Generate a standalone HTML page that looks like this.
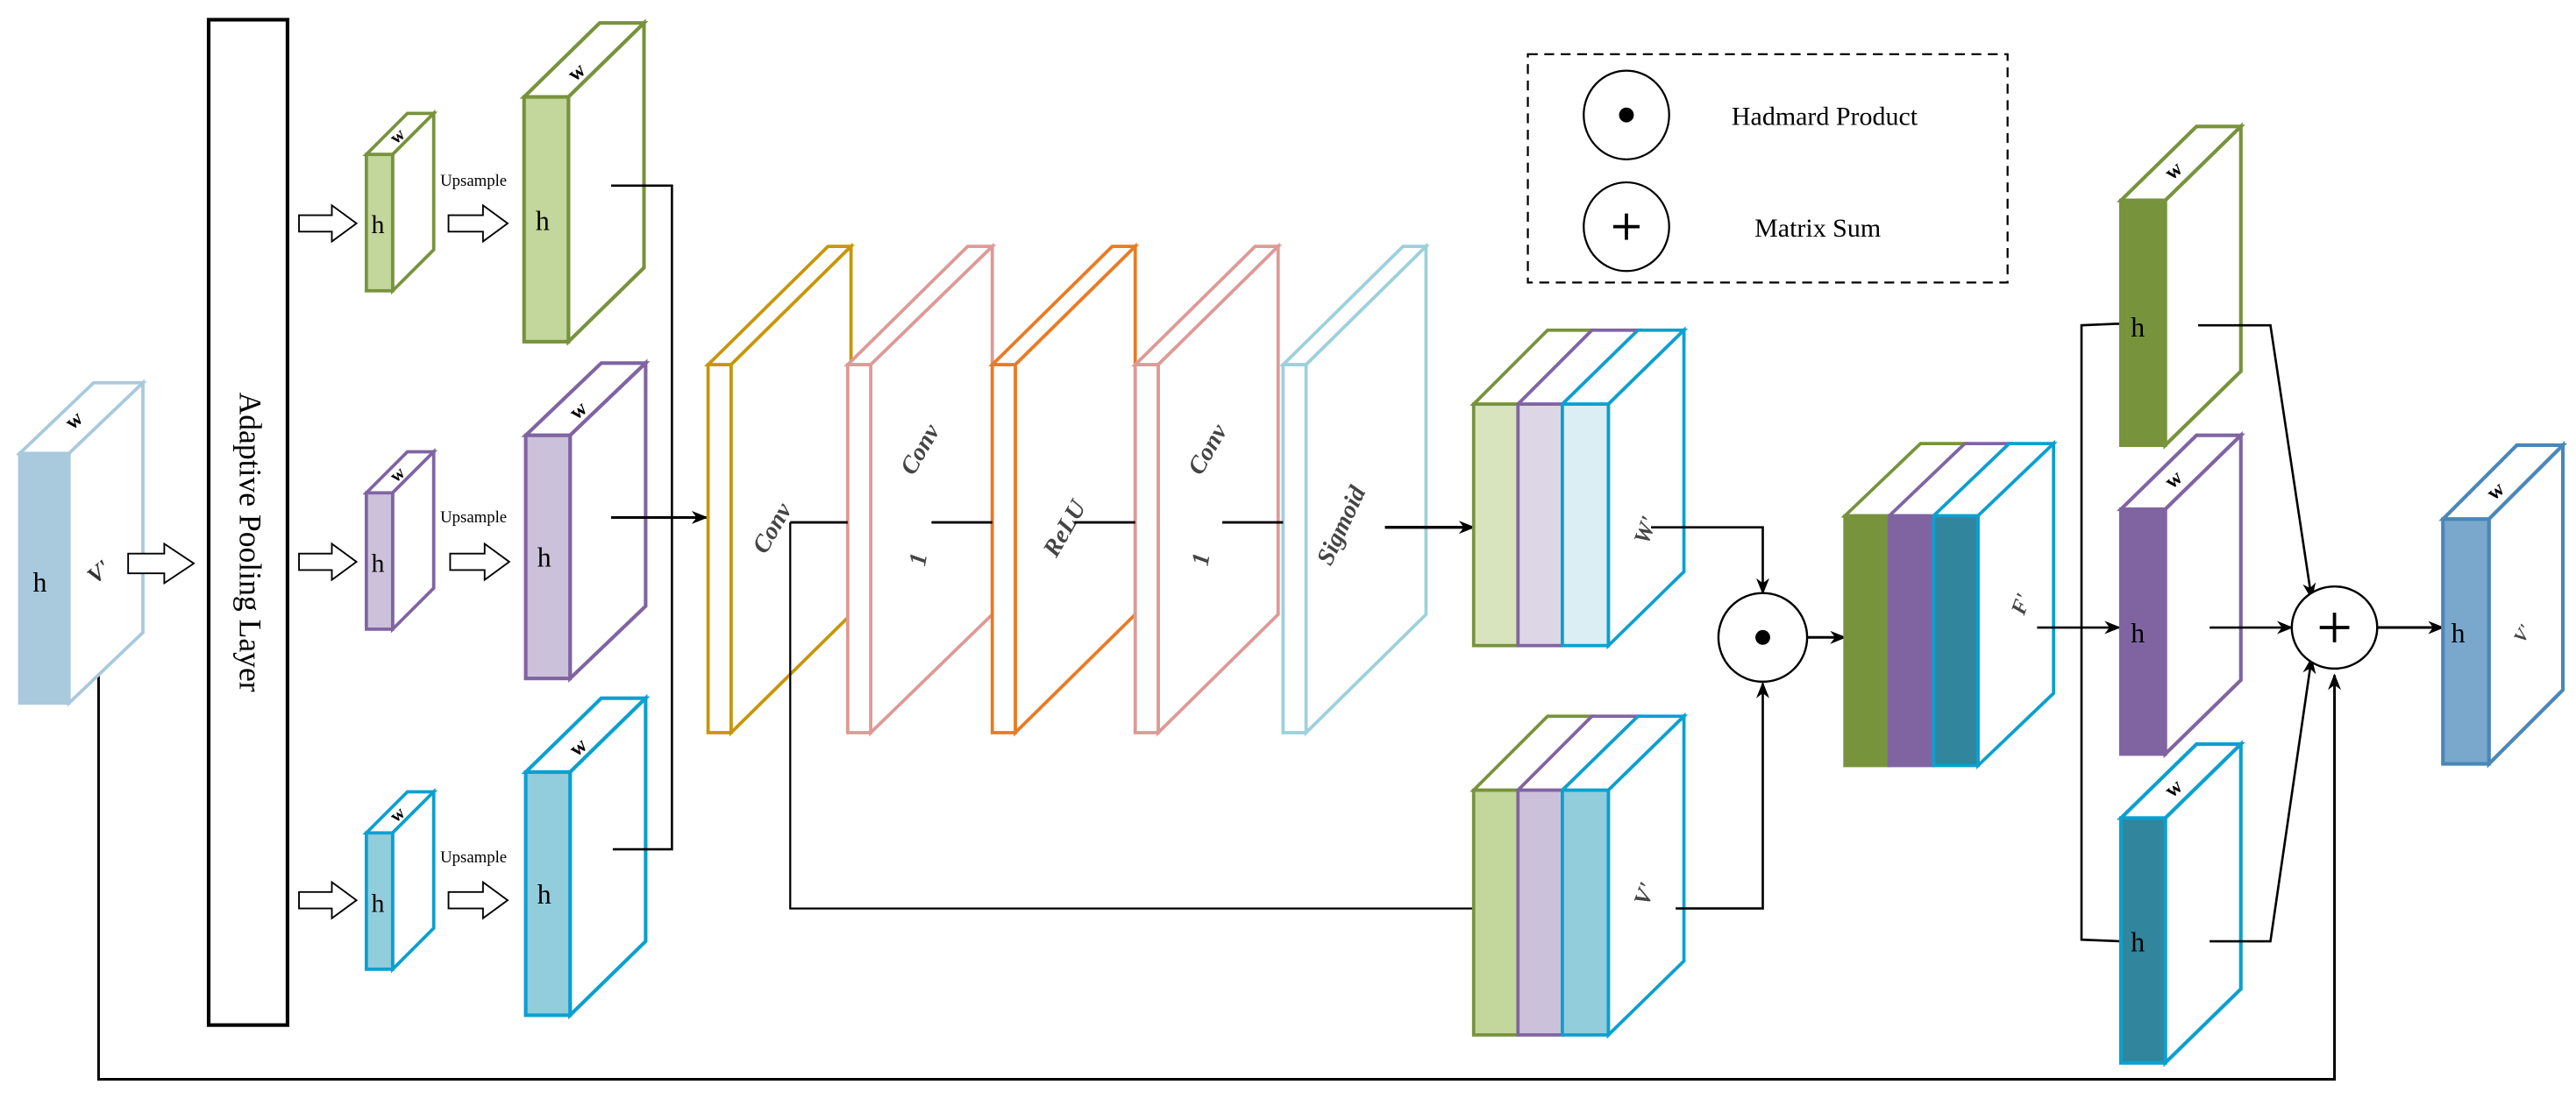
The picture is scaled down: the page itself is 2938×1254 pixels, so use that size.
<!DOCTYPE html>
<html><head><meta charset="utf-8"><style>
html,body{margin:0;padding:0;background:#fff;}
svg{display:block;}
text{font-family:"Liberation Serif",serif;}
</style></head><body>
<svg width="2938" height="1254" viewBox="0 0 1568 669" preserveAspectRatio="none" xmlns="http://www.w3.org/2000/svg">
<defs>
<marker id="ar" markerWidth="10" markerHeight="10" refX="9" refY="5" orient="auto" markerUnits="userSpaceOnUse">
<path d="M0,1 L10,5 L0,9 L3,5 z" fill="#000"/></marker>
</defs>
<rect width="1568" height="669" fill="#fff"/>

<!-- skip connection -->
<polyline points="60,408 60,657 1421,657 1421,411" fill="none" stroke="#000" stroke-width="1.6" marker-end="url(#ar)"/>

<!-- input block -->
<g stroke="#a9c9dd" stroke-width="2">
<polygon points="12,276 57,233 87,233 42,276" fill="#fff"/>
<polygon points="42,276 87,233 87,385 42,428" fill="#fff"/>
<rect x="12" y="276" width="30" height="152" fill="#a9c9dd"/>
</g>
<text x="20" y="360" font-size="17">h</text>
<text x="0" y="0" font-size="13" font-weight="bold" transform="translate(44,262) rotate(-40)">w</text>
<text x="0" y="0" font-size="14" font-style="italic" font-weight="bold" fill="#333" transform="translate(58,356) rotate(-40)">V'</text>

<!-- hollow arrows -->
<g fill="#fff" stroke="#000" stroke-width="1">
<path d="M78,337 h22 v-6 l18,12 l-18,12 v-6 h-22 z"/>
<path d="M182,131 h20 v-6 l15,11 l-15,11 v-6 h-20 z"/>
<path d="M182,337 h20 v-6 l15,11 l-15,11 v-6 h-20 z"/>
<path d="M182,543 h20 v-6 l15,11 l-15,11 v-6 h-20 z"/>
<path d="M273,131 h21 v-6 l15,11 l-15,11 v-6 h-21 z"/>
<path d="M274,337 h21 v-6 l15,11 l-15,11 v-6 h-21 z"/>
<path d="M273,543 h21 v-6 l15,11 l-15,11 v-6 h-21 z"/>
</g>
<text x="268" y="113" font-size="10">Upsample</text>
<text x="268" y="318" font-size="10">Upsample</text>
<text x="268" y="525" font-size="10">Upsample</text>

<!-- adaptive pooling -->
<rect x="127" y="12" width="48" height="612" fill="#fff" stroke="#000" stroke-width="2.2"/>
<text x="0" y="0" font-size="19" text-anchor="middle" transform="translate(146,330) rotate(90)">Adaptive Pooling Layer</text>

<!-- small blocks -->
<g stroke-width="2">
<g stroke="#77933c"><polygon points="223,94 248,69 264,69 239,94" fill="#fff"/><polygon points="239,94 264,69 264,152 239,177" fill="#fff"/><rect x="223" y="94" width="16" height="83" fill="#c3d69b"/></g>
<g stroke="#8064a2"><polygon points="223,300 248,275 264,275 239,300" fill="#fff"/><polygon points="239,300 264,275 264,358 239,383" fill="#fff"/><rect x="223" y="300" width="16" height="83" fill="#ccc1da"/></g>
<g stroke="#0ba0d0"><polygon points="223,507 248,482 264,482 239,507" fill="#fff"/><polygon points="239,507 264,482 264,565 239,590" fill="#fff"/><rect x="223" y="507" width="16" height="83" fill="#92cddc"/></g>
</g>
<text x="226" y="142" font-size="16">h</text>
<text x="226" y="348" font-size="16">h</text>
<text x="226" y="555" font-size="16">h</text>
<text font-size="11" font-weight="bold" transform="translate(241,88) rotate(-40)">w</text>
<text font-size="11" font-weight="bold" transform="translate(241,294) rotate(-40)">w</text>
<text font-size="11" font-weight="bold" transform="translate(241,501) rotate(-40)">w</text>

<!-- big blocks -->
<g stroke-width="2.2">
<g stroke="#77933c"><polygon points="319,59 365,14 392,14 346,59" fill="#fff"/><polygon points="346,59 392,14 392,163 346,208" fill="#fff"/><rect x="319" y="59" width="27" height="149" fill="#c3d69b"/></g>
<g stroke="#8064a2"><polygon points="320,265 366,221 393,221 347,265" fill="#fff"/><polygon points="347,265 393,221 393,369 347,413" fill="#fff"/><rect x="320" y="265" width="27" height="148" fill="#ccc1da"/></g>
<g stroke="#0ba0d0"><polygon points="320,470 366,425 393,425 347,470" fill="#fff"/><polygon points="347,470 393,425 393,573 347,618" fill="#fff"/><rect x="320" y="470" width="27" height="148" fill="#92cddc"/></g>
</g>
<text x="326" y="140" font-size="17">h</text>
<text x="327" y="345" font-size="17">h</text>
<text x="327" y="550" font-size="17">h</text>
<text font-size="13" font-weight="bold" transform="translate(350,50) rotate(-40)">w</text>
<text font-size="13" font-weight="bold" transform="translate(351,256) rotate(-40)">w</text>
<text font-size="13" font-weight="bold" transform="translate(351,461) rotate(-40)">w</text>

<!-- connectors from big blocks -->
<polyline points="372,113 409,113 409,517 373,517" fill="none" stroke="#000" stroke-width="1.4"/>
<line x1="372" y1="315" x2="430" y2="315" stroke="#000" stroke-width="1.6" marker-end="url(#ar)"/>

<!-- conv layers -->
<g stroke-width="2" fill="#fff">
<g stroke="#c8960a"><polygon points="431,222 504,150 518,150 445,222"/><polygon points="445,222 518,150 518,374 445,446"/><rect x="431" y="222" width="14" height="224"/></g>
<g stroke="#dd9a96"><polygon points="516,222 589,150 604,150 530,222"/><polygon points="530,222 604,150 604,374 530,446"/><rect x="516" y="222" width="14" height="224"/></g>
<g stroke="#eb7a22"><polygon points="604,222 677,150 691,150 618,222"/><polygon points="618,222 691,150 691,374 618,446"/><rect x="604" y="222" width="14" height="224"/></g>
<g stroke="#dd9a96"><polygon points="691,222 764,150 778,150 705,222"/><polygon points="705,222 778,150 778,374 705,446"/><rect x="691" y="222" width="14" height="224"/></g>
<g stroke="#9dd0dc"><polygon points="781,222 854,150 868,150 795,222"/><polygon points="795,222 868,150 868,374 795,446"/><rect x="781" y="222" width="14" height="224"/></g>
</g>
<g font-size="15" font-style="italic" font-weight="bold" fill="#444">
<text transform="translate(466,338) rotate(-60)">Conv</text>
<text transform="translate(556,290) rotate(-60)">Conv</text>
<text transform="translate(563,345) rotate(-80)">1</text>
<text transform="translate(643,340) rotate(-60)">ReLU</text>
<text transform="translate(731,290) rotate(-60)">Conv</text>
<text transform="translate(735,345) rotate(-80)">1</text>
<text transform="translate(810,345) rotate(-65)">Sigmoid</text>
</g>
<g stroke="#000" stroke-width="1.5">
<line x1="481" y1="318" x2="516" y2="318"/>
<line x1="567" y1="318" x2="604" y2="318"/>
<line x1="654" y1="318" x2="691" y2="318"/>
<line x1="744" y1="318" x2="781" y2="318"/>
</g>
<polyline points="481,318 481,553 897,553" fill="none" stroke="#000" stroke-width="1.2"/>
<line x1="843" y1="321" x2="897" y2="321" stroke="#000" stroke-width="1.8" marker-end="url(#ar)"/>

<!-- top stack -->
<g stroke-width="2">
<polygon points="897,246 942,201 969,201 924,246" fill="#fff" stroke="#77933c"/>
<polygon points="924,246 969,201 997,201 951,246" fill="#fff" stroke="#8064a2"/>
<polygon points="951,246 997,201 1025,201 979,246" fill="#fff" stroke="#0ba0d0"/>
<polygon points="979,246 1025,201 1025,348 979,393" fill="#fff" stroke="#0ba0d0"/>
<rect x="897" y="246" width="27" height="147" fill="#d7e4bd" stroke="#77933c"/>
<rect x="924" y="246" width="27" height="147" fill="#dcd6e6" stroke="#8064a2"/>
<rect x="951" y="246" width="28" height="147" fill="#daeef3" stroke="#0ba0d0"/>
</g>
<text font-size="14" font-style="italic" font-weight="bold" fill="#444" transform="translate(1003,332) rotate(-70)">W'</text>
<!-- bottom stack -->
<g stroke-width="2">
<polygon points="897,481 942,436 969,436 924,481" fill="#fff" stroke="#77933c"/>
<polygon points="924,481 969,436 997,436 951,481" fill="#fff" stroke="#8064a2"/>
<polygon points="951,481 997,436 1025,436 979,481" fill="#fff" stroke="#0ba0d0"/>
<polygon points="979,481 1025,436 1025,585 979,630" fill="#fff" stroke="#0ba0d0"/>
<rect x="897" y="481" width="27" height="149" fill="#c3d69b" stroke="#77933c"/>
<rect x="924" y="481" width="27" height="149" fill="#ccc1da" stroke="#8064a2"/>
<rect x="951" y="481" width="28" height="149" fill="#92cddc" stroke="#0ba0d0"/>
</g>
<text font-size="14" font-style="italic" font-weight="bold" fill="#444" transform="translate(1003,552) rotate(-70)">V'</text>

<!-- hadamard -->
<polyline points="1005,321 1073,321 1073,361" fill="none" stroke="#000" stroke-width="1.4" marker-end="url(#ar)"/>
<polyline points="1020,553 1073,553 1073,416" fill="none" stroke="#000" stroke-width="1.4" marker-end="url(#ar)"/>
<ellipse cx="1073" cy="388" rx="27" ry="27" fill="#fff" stroke="#000" stroke-width="1.3"/>
<circle cx="1073" cy="388" r="4.5" fill="#000"/>
<line x1="1100" y1="388" x2="1123" y2="388" stroke="#000" stroke-width="1.6" marker-end="url(#ar)"/>

<!-- middle stack -->
<g stroke-width="2">
<polygon points="1123,314 1169,270 1196,270 1150,314" fill="#fff" stroke="#77933c"/>
<polygon points="1150,314 1196,270 1223,270 1177,314" fill="#fff" stroke="#8064a2"/>
<polygon points="1177,314 1223,270 1250,270 1204,314" fill="#fff" stroke="#0ba0d0"/>
<polygon points="1204,314 1250,270 1250,422 1204,466" fill="#fff" stroke="#0ba0d0"/>
<rect x="1123" y="314" width="27" height="152" fill="#77933c" stroke="#77933c"/>
<rect x="1150" y="314" width="27" height="152" fill="#8064a2" stroke="#8064a2"/>
<rect x="1177" y="314" width="27" height="152" fill="#31859c" stroke="#0ba0d0"/>
</g>
<text font-size="13" font-style="italic" font-weight="bold" fill="#444" transform="translate(1232,375) rotate(-70)">F'</text>

<!-- distribution lines -->
<polyline points="1291,197 1267,198 1267,572 1291,573" fill="none" stroke="#000" stroke-width="1.4"/>
<line x1="1240" y1="382" x2="1290" y2="382" stroke="#000" stroke-width="1.4" marker-end="url(#ar)"/>

<!-- right blocks -->
<g stroke-width="2.2">
<g stroke="#77933c"><polygon points="1291,122 1337,77 1364,77 1318,122" fill="#fff"/><polygon points="1318,122 1364,77 1364,226 1318,271" fill="#fff"/><rect x="1291" y="122" width="27" height="149" fill="#77933c"/></g>
<g stroke="#8064a2"><polygon points="1291,310 1337,265 1364,265 1318,310" fill="#fff"/><polygon points="1318,310 1364,265 1364,414 1318,459" fill="#fff"/><rect x="1291" y="310" width="27" height="149" fill="#8064a2"/></g>
<g stroke="#0ba0d0"><polygon points="1291,498 1337,453 1364,453 1318,498" fill="#fff"/><polygon points="1318,498 1364,453 1364,602 1318,647" fill="#fff"/><rect x="1291" y="498" width="27" height="149" fill="#31859c"/></g>
</g>
<text x="1297" y="205" font-size="17">h</text>
<text x="1297" y="391" font-size="17">h</text>
<text x="1297" y="579" font-size="17">h</text>
<text font-size="13" font-weight="bold" transform="translate(1322,110) rotate(-40)">w</text>
<text font-size="13" font-weight="bold" transform="translate(1322,298) rotate(-40)">w</text>
<text font-size="13" font-weight="bold" transform="translate(1322,486) rotate(-40)">w</text>

<!-- to sum -->
<polyline points="1338,198 1382,198 1407,364" fill="none" stroke="#000" stroke-width="1.4" marker-end="url(#ar)"/>
<line x1="1345" y1="382" x2="1395" y2="382" stroke="#000" stroke-width="1.4" marker-end="url(#ar)"/>
<polyline points="1345,573 1382,573 1407,401" fill="none" stroke="#000" stroke-width="1.4" marker-end="url(#ar)"/>
<ellipse cx="1421" cy="382" rx="26" ry="25" fill="#fff" stroke="#000" stroke-width="1.3"/>
<path d="M1421,373 v18 M1412,382 h18" stroke="#000" stroke-width="2"/>
<line x1="1447" y1="382" x2="1487" y2="382" stroke="#000" stroke-width="1.6" marker-end="url(#ar)"/>

<!-- output -->
<g stroke="#4a87b8" stroke-width="2.2">
<polygon points="1487,316 1532,271 1560,271 1515,316" fill="#fff"/>
<polygon points="1515,316 1560,271 1560,420 1515,465" fill="#fff"/>
<rect x="1487" y="316" width="28" height="149" fill="#7aa8cc"/>
</g>
<text x="1492" y="391" font-size="17">h</text>
<text font-size="13" font-weight="bold" transform="translate(1518,305) rotate(-40)">w</text>
<text font-size="11" font-style="italic" font-weight="bold" fill="#444" transform="translate(1536,392) rotate(-60)">V'</text>

<!-- legend -->
<rect x="930" y="33" width="292" height="139" fill="none" stroke="#000" stroke-width="1.2" stroke-dasharray="6,4"/>
<ellipse cx="990" cy="70" rx="26" ry="27" fill="#fff" stroke="#000" stroke-width="1.2"/>
<circle cx="990" cy="70" r="4.5" fill="#000"/>
<ellipse cx="990" cy="138" rx="26" ry="27" fill="#fff" stroke="#000" stroke-width="1.2"/>
<path d="M990,130 v16 M982,138 h16" stroke="#000" stroke-width="2"/>
<text x="1054" y="76" font-size="16">Hadmard Product</text>
<text x="1068" y="144" font-size="16">Matrix Sum</text>
</svg>
</body></html>
